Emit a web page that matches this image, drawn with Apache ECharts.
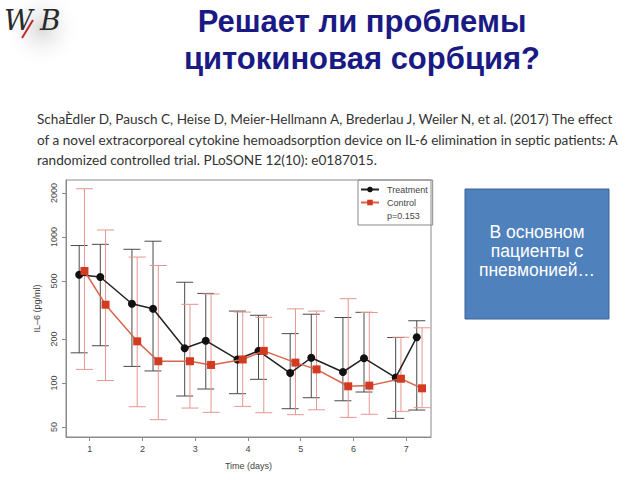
<!DOCTYPE html>
<html>
<head>
<meta charset="utf-8">
<script src="https://cdn.jsdelivr.net/npm/echarts@6/dist/echarts.min.js"></script>
<style>html,body{margin:0;padding:0;background:#fff;}#c{width:640px;height:480px;}</style>
</head>
<body>
<div id="c"></div>
<script>
// ---- data ----
const dayTicks = [1, 2, 3, 4, 5, 6, 7];
const yTicks = [50, 100, 200, 500, 1000, 2000];

const treatTime = [0.8, 1.2, 1.8, 2.2, 2.8, 3.2, 3.8, 4.2, 4.8, 5.2, 5.8, 6.2, 6.8, 7.2];
const treatMean = [552, 532, 349, 323, 173, 195, 145, 166, 117, 149, 119, 148, 109, 206];
const treatLow  = [161, 180, 130, 121, 81.5, 91, 84.5, 106, 66.7, 79.3, 75.6, 86.8, 57.3, 65.3];
const treatHigh = [874, 891, 824, 936, 490, 411, 311, 291, 218, 296, 281, 305, 205, 267];

const ctrlTime = [0.9, 1.3, 1.9, 2.3, 2.9, 3.3, 3.9, 4.3, 4.9, 5.3, 5.9, 6.3, 6.9, 7.3];
const ctrlMean = [585, 344, 193, 141, 141, 133, 145, 166, 138, 124, 95, 96, 107, 92];
const ctrlLow  = [124, 104, 68.8, 56.1, 67.4, 63, 69.2, 62.6, 60.7, 65.6, 58.2, 61.1, 64, 67.8];
const ctrlHigh = [2142, 1117, 729, 638, 346, 407, 306, 282, 322, 311, 378, 304, 206, 239];

const seriesNames = ['Treatment', 'Control'];
const pValueText = 'p=0.153';
const xTitle = 'Time (days)';
const yTitle = 'IL\u20136 (pg/ml)';
const titleLines = ['Решает ли проблемы', 'цитокиновая сорбция?'];
const citationLines = [
  'SchaÈdler D, Pausch C, Heise D, Meier-Hellmann A, Brederlau J, Weiler N, et al. (2017) The effect',
  'of a novel extracorporeal cytokine hemoadsorption device on IL-6 elimination in septic patients: A',
  'randomized controlled trial. PLoSONE 12(10): e0187015.'
];
const boxLines = ['В основном', 'пациенты с', 'пневмонией…'];

// ---- chart ----
const chart = echarts.init(document.getElementById('c'), null, {renderer: 'svg'});

function zip3(t, a, b) { return t.map((v, i) => [v, a[i], b[i]]); }
function zip2(t, a) { return t.map((v, i) => [v, a[i]]); }

function errorBars(color) {
  return function (params, api) {
    const x = api.value(0);
    const lo = api.coord([x, api.value(1)]);
    const hi = api.coord([x, api.value(2)]);
    const hw = 8.5;
    const style = {stroke: color, lineWidth: 1, fill: null};
    return {
      type: 'group',
      children: [
        {type: 'line', shape: {x1: hi[0], y1: hi[1], x2: lo[0], y2: lo[1]}, style: style},
        {type: 'line', shape: {x1: hi[0] - hw, y1: hi[1], x2: hi[0] + hw, y2: hi[1]}, style: style},
        {type: 'line', shape: {x1: lo[0] - hw, y1: lo[1], x2: lo[0] + hw, y2: lo[1]}, style: style}
      ]
    };
  };
}

const axisFont = {fontFamily: 'Liberation Sans', fontSize: 9, color: '#444'};

const option = {
  animation: false,
  grid: {left: 66, right: 209, top: 180, bottom: 43, show: true, borderColor: '#8a8a8a', borderWidth: 1},
  legend: {
    orient: 'vertical', left: 358, top: 180,
    itemWidth: 18, itemHeight: 7, itemGap: 4,
    padding: [5, 5, 5, 2],
    borderColor: '#8a8a8a', borderWidth: 1,
    textStyle: {fontFamily: 'Liberation Sans', fontSize: 9, color: '#444', padding: [0, 0, 0, 3]},
    data: [
      {name: seriesNames[0]},
      {name: seriesNames[1]},
      {name: pValueText, icon: 'none'}
    ],
    selectedMode: false
  },
  xAxis: {
    type: 'value', min: 0.55, max: 7.47,
    name: xTitle, nameLocation: 'middle', nameGap: 24,
    nameTextStyle: axisFont,
    axisLine: {show: true, lineStyle: {color: '#8a8a8a'}},
    axisTick: {show: true, length: 4, customValues: dayTicks, lineStyle: {color: '#8a8a8a'}},
    axisLabel: {customValues: dayTicks, margin: 7, ...axisFont},
    splitLine: {show: false}
  },
  yAxis: {
    type: 'log', logBase: 10, min: 42.7, max: 2457,
    name: yTitle, nameLocation: 'middle', nameGap: 24,
    nameTextStyle: axisFont,
    axisLine: {show: true, lineStyle: {color: '#8a8a8a'}},
    axisTick: {show: true, length: 4, customValues: yTicks, lineStyle: {color: '#8a8a8a'}},
    axisLabel: {customValues: yTicks, rotate: 90, margin: 8, formatter: v => String(Math.round(v)), ...axisFont},
    splitLine: {show: false}
  },
  series: [
    {
      type: 'custom', name: 'treatErr', renderItem: errorBars('#4a4a4a'),
      encode: {x: 0, y: [1, 2]}, data: zip3(treatTime, treatLow, treatHigh), z: 1, silent: true
    },
    {
      type: 'custom', name: 'ctrlErr', renderItem: errorBars('#e5978f'),
      encode: {x: 0, y: [1, 2]}, data: zip3(ctrlTime, ctrlLow, ctrlHigh), z: 1, silent: true
    },
    {
      type: 'line', name: seriesNames[0], data: zip2(treatTime, treatMean),
      symbol: 'circle', symbolSize: 8,
      lineStyle: {color: '#222', width: 1.5},
      itemStyle: {color: '#111'}, z: 3, silent: true
    },
    {
      type: 'line', name: seriesNames[1], data: zip2(ctrlTime, ctrlMean),
      symbol: 'rect', symbolSize: 8,
      lineStyle: {color: '#d9644c', width: 1.5},
      itemStyle: {color: '#d23a22'}, z: 4, silent: true
    },
    {
      type: 'scatter', name: pValueText, data: [], symbol: 'none', itemStyle: {color: '#fff'}
    }
  ],
  graphic: [
    // logo
    {type: 'circle', shape: {cx: 42, cy: 28, r: 40}, z: 0,
      style: {fill: new echarts.graphic.RadialGradient(0.5, 0.5, 0.5, [
        {offset: 0, color: 'rgba(200,200,200,0.7)'}, {offset: 1, color: 'rgba(255,255,255,0)'}])}},
    {type: 'text', left: 4, top: 6, z: 10,
      style: {text: 'W', fontFamily: 'DejaVu Serif', fontStyle: 'italic', fontSize: 28, fill: '#2a2a2a'}},
    {type: 'text', left: 40, top: 6, z: 10,
      style: {text: 'B', fontFamily: 'DejaVu Serif', fontStyle: 'italic', fontSize: 28, fill: '#2a2a2a'}},
    {type: 'line', z: 11, shape: {x1: 22, y1: 38, x2: 33, y2: 20}, style: {stroke: '#c0282a', lineWidth: 2}},
    // title
    {type: 'text', x: 362, y: 21, z: 10,
      style: {text: titleLines[0], fontFamily: 'Liberation Sans', fontWeight: 'bold', fontSize: 31,
        fill: '#1a1a85', align: 'center', verticalAlign: 'middle'}},
    {type: 'text', x: 362, y: 58, z: 10,
      style: {text: titleLines[1], fontFamily: 'Liberation Sans', fontWeight: 'bold', fontSize: 31,
        fill: '#1a1a85', align: 'center', verticalAlign: 'middle'}},
    // citation
    {type: 'text', x: 37, y: 119, z: 10,
      style: {text: citationLines[0], fontFamily: 'Lato', fontSize: 13.6, fill: '#333', verticalAlign: 'middle'}},
    {type: 'text', x: 37, y: 140, z: 10,
      style: {text: citationLines[1], fontFamily: 'Lato', fontSize: 13.6, fill: '#333', verticalAlign: 'middle'}},
    {type: 'text', x: 37, y: 160, z: 10,
      style: {text: citationLines[2], fontFamily: 'Lato', fontSize: 13.6, fill: '#333', verticalAlign: 'middle'}},
    // blue box
    {type: 'rect', shape: {x: 465, y: 189, width: 144, height: 130}, z: 10,
      style: {fill: '#4f81bd', stroke: '#3b6494', lineWidth: 1}},
    {type: 'text', x: 537, y: 251, z: 11,
      style: {text: boxLines.join('\n'), fontFamily: 'Liberation Sans', fontSize: 17.5, lineHeight: 19,
        fill: '#fff', align: 'center', verticalAlign: 'middle'}}
  ]
};
chart.setOption(option);
</script>
</body>
</html>
